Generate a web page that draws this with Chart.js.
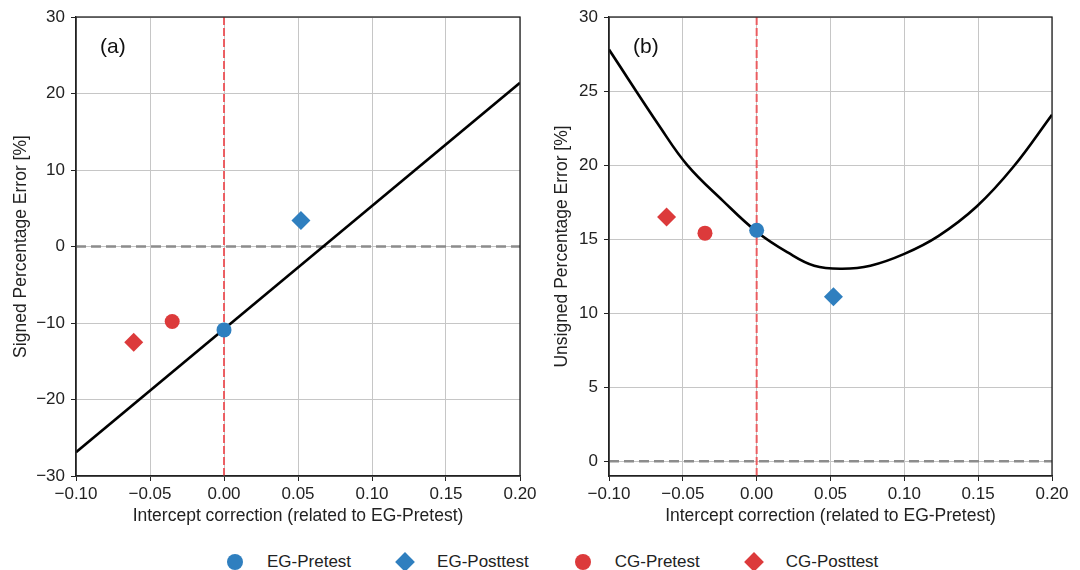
<!DOCTYPE html>
<html>
<head>
<meta charset="utf-8">
<script src="https://cdn.jsdelivr.net/npm/chart.js@4"></script>
<style>
    body { margin: 0; background: #fff; font-family: "Liberation Sans", Arial, sans-serif; }
    #page { position: relative; width: 1080px; height: 570px; overflow: hidden; }
    .panel { position: absolute; top: 0; width: 540px; height: 540px; }
    .tag { position: absolute; top: 34px; font-size: 21px; color: #111; }
    #legend { position: absolute; left: 227px; top: 552px; display: flex; gap: 46px; font-size: 17px; color: #222; }
    .item { display: flex; align-items: center; }
    .mk { width: 16px; height: 20px; margin-right: 24px; display: flex; align-items: center; justify-content: center; }
    .dot { width: 16px; height: 16px; border-radius: 50%; flex: none; }
    .dia { width: 14px; height: 14px; transform: rotate(45deg); flex: none; }
</style>
</head>
<body>
<div id="page">
    <div class="panel" style="left:0"><canvas id="chartA" width="540" height="540"></canvas></div>
    <div class="panel" style="left:540px"><canvas id="chartB" width="540" height="540"></canvas></div>
    <div class="tag" style="left:100px">(a)</div>
    <div class="tag" style="left:633px">(b)</div>
    <div id="legend"></div>
</div>
<script>
// --- data ---
const xTicks = [-0.10, -0.05, 0.00, 0.05, 0.10, 0.15, 0.20];
const yTicksA = [-30, -20, -10, 0, 10, 20, 30];
const yTicksB = [0, 5, 10, 15, 20, 25, 30];

const groups = ['EG-Pretest', 'EG-Posttest', 'CG-Pretest', 'CG-Posttest'];
const groupX = [0.000, 0.052, -0.035, -0.061];
const signedErr = [-10.9, 3.4, -9.8, -12.5];     // panel (a)
const unsignedErr = [15.6, 11.1, 15.4, 16.5];    // panel (b)

// correction curves
const curveAX = [-0.10, 0.20];
const curveAY = [-26.9, 21.4];
const curveBX = [-0.100, -0.065, -0.047, -0.023, 0.000, 0.021, 0.039, 0.058, 0.077, 0.100, 0.123, 0.149, 0.174, 0.200];
const curveBY = [27.8, 22.5, 20.0, 17.6, 15.5, 14.1, 13.2, 13.0, 13.2, 14.0, 15.2, 17.2, 19.9, 23.4];

const BLUE = '#2f7fbf';
const RED = '#dc3a3b';
const groupColor = [BLUE, BLUE, RED, RED];
const groupShape = ['circle', 'rectRot', 'circle', 'rectRot'];
const FONT = '"Liberation Sans", Arial, sans-serif';

const frame = {
    id: 'frame',
    afterDraw(chart) {
        const { ctx, chartArea: a } = chart;
        ctx.save();
        ctx.strokeStyle = '#222';
        ctx.lineWidth = 1.3;
        ctx.strokeRect(a.left, a.top, a.right - a.left, a.bottom - a.top);
        ctx.restore();
    }
};

const minus = (s) => s.replace('-', '\u2212');

function makeChart(id, ys, cx, cy, yMin, yMax, yTicks, yTitle, yWidth, padRight, titlePad) {
    const pts = groups.map((g, i) => ({
        label: g,
        data: [{ x: groupX[i], y: ys[i] }],
        pointStyle: groupShape[i],
        radius: groupShape[i] === 'circle' ? 7.5 : 9.5,
        backgroundColor: groupColor[i],
        borderColor: groupColor[i],
        borderWidth: 0
    }));

    const datasets = [
        ...pts,
        {
            label: 'curve',
            data: cx.map((x, i) => ({ x: x, y: cy[i] })),
            showLine: true,
            borderColor: '#000',
            borderWidth: 2.6,
            pointRadius: 0,
            tension: 0.4
        },
        {
            label: 'x0',
            data: [{ x: 0, y: yMin }, { x: 0, y: yMax }],
            showLine: true,
            borderColor: 'rgba(236, 80, 84, 0.9)',
            borderWidth: 2,
            borderDash: [8, 3],
            pointRadius: 0
        },
        {
            label: 'y0',
            data: [{ x: xTicks[0], y: 0 }, { x: xTicks[xTicks.length - 1], y: 0 }],
            showLine: true,
            borderColor: '#8c8c8c',
            borderWidth: 2.6,
            borderDash: [10, 5],
            pointRadius: 0
        }
    ];

    return new Chart(document.getElementById(id).getContext('2d'), {
        type: 'scatter',
        data: { datasets },
        options: {
            responsive: false,
            animation: false,
            layout: { padding: { top: 17, right: padRight, left: 0, bottom: 0 } },
            plugins: { legend: { display: false }, tooltip: { enabled: false } },
            scales: {
                x: {
                    type: 'linear',
                    min: xTicks[0],
                    max: xTicks[xTicks.length - 1],
                    afterBuildTicks: (s) => { s.ticks = xTicks.map(v => ({ value: v })); },
                    afterFit: (s) => { s.height = 64; },
                    grid: { color: '#c6c6c6', lineWidth: 1, tickLength: 5, tickColor: '#222' },
                    border: { color: '#222', width: 1.3 },
                    ticks: {
                        padding: 3,
                        color: '#222',
                        font: { family: FONT, size: 17 },
                        maxRotation: 0,
                        callback: (v) => minus(v.toFixed(2))
                    },
                    title: {
                        display: true,
                        text: 'Intercept correction (related to EG-Pretest)',
                        color: '#222',
                        font: { family: FONT, size: 17.5 },
                        padding: { top: 0, bottom: 13 }
                    }
                },
                y: {
                    min: yMin,
                    max: yMax,
                    afterBuildTicks: (s) => { s.ticks = yTicks.map(v => ({ value: v })); },
                    afterFit: (s) => { s.width = yWidth; },
                    grid: { color: '#c6c6c6', lineWidth: 1, tickLength: 5, tickColor: '#222' },
                    border: { color: '#222', width: 1.3 },
                    ticks: {
                        padding: 6,
                        color: '#222',
                        font: { family: FONT, size: 17 },
                        callback: (v) => minus(String(v))
                    },
                    title: {
                        display: true,
                        text: yTitle,
                        color: '#222',
                        font: { family: FONT, size: 17.5 },
                        padding: { top: titlePad, bottom: 0 }
                    }
                }
            }
        },
        plugins: [frame]
    });
}

makeChart('chartA', signedErr, curveAX, curveAY, -30, 30, yTicksA, 'Signed Percentage Error [%]', 76, 20, 11);
makeChart('chartB', unsignedErr, curveBX, curveBY, -1, 30, yTicksB, 'Unsigned Percentage Error [%]', 69, 28, 12);

// legend shared by both panels
const legend = document.getElementById('legend');
groups.forEach((g, i) => {
    const item = document.createElement('div');
    item.className = 'item';
    const shape = groupShape[i] === 'circle' ? 'dot' : 'dia';
    item.innerHTML = `<span class="mk"><span class="${shape}" style="background:${groupColor[i]}"></span></span><span>${g}</span>`;
    legend.appendChild(item);
});
</script>
</body>
</html>
